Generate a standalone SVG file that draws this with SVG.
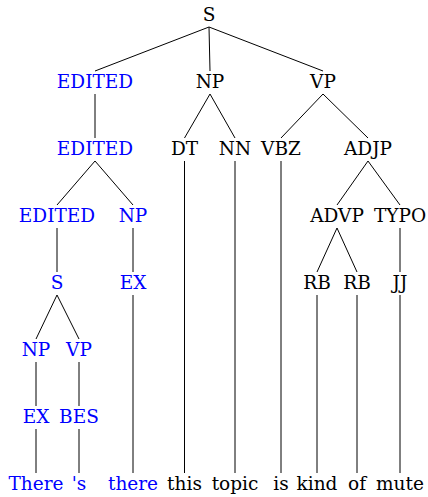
<svg xmlns="http://www.w3.org/2000/svg" width="428" height="497" viewBox="0 0 428 497">
<style>
text{font-family:"DejaVu Serif",serif;font-size:18.5px;text-anchor:middle;fill:#000}
.e text,text.e{fill:#0000ff}
#edges line{stroke:#000;stroke-width:1}
</style>
<rect width="428" height="497" fill="#fff"/>
<g id="edges">
<line x1="209" y1="27" x2="95" y2="71"/>
<line x1="209" y1="27" x2="210" y2="71"/>
<line x1="209" y1="27" x2="323" y2="71"/>
<line x1="95" y1="94" x2="95" y2="138"/>
<line x1="210" y1="94" x2="184.5" y2="138"/>
<line x1="210" y1="94" x2="235" y2="138"/>
<line x1="323" y1="94" x2="281" y2="138"/>
<line x1="323" y1="94" x2="368" y2="138"/>
<line x1="95" y1="161" x2="57" y2="205"/>
<line x1="95" y1="161" x2="133" y2="205"/>
<line x1="184.5" y1="161" x2="184.5" y2="473"/>
<line x1="235" y1="161" x2="235" y2="473"/>
<line x1="281" y1="161" x2="281" y2="473"/>
<line x1="368" y1="161" x2="337" y2="205"/>
<line x1="368" y1="161" x2="400" y2="205"/>
<line x1="57" y1="228" x2="57" y2="272"/>
<line x1="133" y1="228" x2="133" y2="272"/>
<line x1="337" y1="228" x2="317" y2="272"/>
<line x1="337" y1="228" x2="357" y2="272"/>
<line x1="400" y1="228" x2="400" y2="272"/>
<line x1="57" y1="295" x2="36" y2="339"/>
<line x1="57" y1="295" x2="79" y2="339"/>
<line x1="133" y1="295" x2="133" y2="473"/>
<line x1="317" y1="295" x2="317" y2="473"/>
<line x1="357" y1="295" x2="357" y2="473"/>
<line x1="400" y1="295" x2="400" y2="473"/>
<line x1="36" y1="362" x2="36" y2="406"/>
<line x1="79" y1="362" x2="79" y2="406"/>
<line x1="36" y1="429" x2="36" y2="473"/>
<line x1="79" y1="429" x2="79" y2="473"/>
</g>
<g id="n-S"><text x="209" y="21">S</text></g>
<g id="n-EDITED1" class="e"><text x="95" y="88">EDITED</text></g>
<g id="n-NP1"><text x="210" y="88">NP</text></g>
<g id="n-VP1"><text x="323" y="88">VP</text></g>
<g id="n-EDITED2" class="e"><text x="95" y="155">EDITED</text></g>
<g id="n-DT"><text x="184.5" y="155">DT</text></g>
<g id="n-NN"><text x="235" y="155">NN</text></g>
<g id="n-VBZ"><text x="281" y="155">VBZ</text></g>
<g id="n-ADJP"><text x="368" y="155">ADJP</text></g>
<g id="n-EDITED3" class="e"><text x="57" y="222">EDITED</text></g>
<g id="n-NP3" class="e"><text x="133" y="222">NP</text></g>
<g id="n-ADVP"><text x="337" y="222">ADVP</text></g>
<g id="n-TYPO"><text x="400" y="222">TYPO</text></g>
<g id="n-S4" class="e"><text x="57" y="289">S</text></g>
<g id="n-EX4" class="e"><text x="133" y="289">EX</text></g>
<g id="n-RB1"><text x="317" y="289">RB</text></g>
<g id="n-RB2"><text x="357" y="289">RB</text></g>
<g id="n-JJ"><text x="400" y="289">JJ</text></g>
<g id="n-NP5" class="e"><text x="36" y="356">NP</text></g>
<g id="n-VP5" class="e"><text x="79" y="356">VP</text></g>
<g id="n-EX6" class="e"><text x="36" y="423">EX</text></g>
<g id="n-BES" class="e"><text x="79" y="423">BES</text></g>
<g id="w-There" class="e"><text x="36" y="490">There</text></g>
<g id="w-s" class="e"><text x="79" y="490">'s</text></g>
<g id="w-there" class="e"><text x="133" y="490">there</text></g>
<g id="w-this"><text x="184.5" y="490">this</text></g>
<g id="w-topic"><text x="235" y="490">topic</text></g>
<g id="w-is"><text x="281" y="490">is</text></g>
<g id="w-kind"><text x="317" y="490">kind</text></g>
<g id="w-of"><text x="357" y="490">of</text></g>
<g id="w-mute"><text x="400" y="490">mute</text></g>
</svg>
